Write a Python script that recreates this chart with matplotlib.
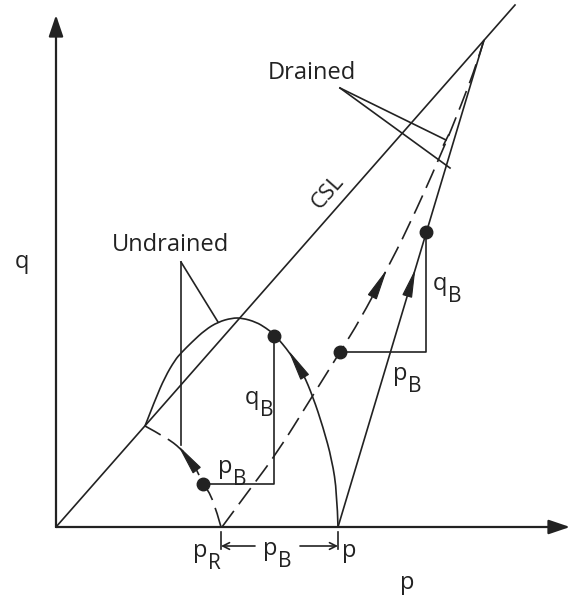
import matplotlib.pyplot as plt
import numpy as np
from matplotlib.path import Path
from matplotlib.patches import PathPatch, Polygon

plt.rcParams['font.family'] = ['Open Sans', 'DejaVu Sans']

INK = '#222222'
FS = 17

# p-q plane, drawing units
p_max = 514
q_max = 512
p_start = 282          # p
p_R = 165              # p_R
csl_end = (459, 522)   # CSL passes through origin

# undrained path from the CSL down to p (solid)
undr_p = [89, 99, 109, 119, 125, 136, 149, 162, 176, 186, 200, 210, 219, 234, 247, 257, 267, 276, 281, 282]
undr_q = [101, 127, 150, 167, 174, 185, 197, 205, 209, 209, 205, 199, 192, 174, 154, 130, 100, 67, 34, 0]

# undrained path from p_R up to the CSL (dashed)
undr_r_p = [165, 157, 147, 137, 124, 111, 89]
undr_r_q = [0, 29, 43, 65, 79, 89, 101]

# drained path from p_R to the CSL (dashed)
dr_r_p = [166, 194, 221, 254, 284, 304, 329, 352, 384, 406, 421, 428]
dr_r_q = [0, 38, 74, 127, 175, 207, 254, 299, 370, 424, 464, 487]

# drained path from p to the CSL (straight)
dr_p = [282, 428]
dr_q = [0, 487]

# marked states
undr_dots_p = [147, 218]
undr_dots_q = [43, 191]
dr_dots_p = [284, 370]
dr_dots_q = [175, 295]


def smooth_path(ps, qs):
    pts = np.column_stack([ps, qs]).astype(float)
    n = len(pts)
    if n == 2:
        return Path(pts, [Path.MOVETO, Path.LINETO])
    verts = [pts[0]]
    codes = [Path.MOVETO]
    for i in range(1, n - 1):
        end = pts[i + 1] if i == n - 2 else (pts[i] + pts[i + 1]) / 2
        verts += [pts[i], end]
        codes += [Path.CURVE3, Path.CURVE3]
    return Path(verts, codes)


def draw_curve(ax, ps, qs, dashed=False):
    ls = (0, (12, 5)) if dashed else '-'
    ax.add_patch(PathPatch(smooth_path(ps, qs), fill=False, ec=INK,
                           lw=1.2, ls=ls, capstyle='butt'))


def arrow_on(ax, ps, qs, q_tip, length=28, half_w=4.5):
    # walk along the path to q_tip, then step back by length for the base
    pts = np.column_stack([ps, qs]).astype(float)
    for i in range(len(pts) - 1):
        a, b = pts[i], pts[i + 1]
        if (a[1] - q_tip) * (b[1] - q_tip) <= 0 and a[1] != b[1]:
            t = (q_tip - a[1]) / (b[1] - a[1])
            tip = a + t * (b - a)
            break
    remain = length
    cur = tip
    for pt in pts[:i + 1][::-1]:
        d = np.hypot(*(pt - cur))
        if d >= remain:
            cur = cur + (pt - cur) * remain / d
            break
        remain -= d
        cur = pt
    u = (tip - cur) / np.hypot(*(tip - cur))
    nrm = np.array([-u[1], u[0]])
    ax.add_patch(Polygon([tip, cur + nrm * half_w, cur - nrm * half_w],
                         closed=True, fc=INK, ec=INK, lw=0.8))


def sub_label(ax, x, y, main, sub):
    # main letter with baseline at (x, y), subscript set lower at near full size
    ax.text(x, y, main, ha='left', va='baseline', fontsize=FS, color=INK)
    ax.annotate(sub, xy=(x, y), xytext=(10.5, -8.5), textcoords='offset points',
                ha='left', va='baseline', fontsize=FS - 2, color=INK)


fig = plt.figure(figsize=(5.72, 5.98), dpi=100)
ax = fig.add_axes([0, 0, 1, 1])
ax.set_xlim(-56, 516)
ax.set_ylim(-71, 527)
ax.set_aspect('equal')
ax.axis('off')

# axes with arrowheads
for xy in [(0, q_max), (p_max, 0)]:
    ax.annotate('', xy=xy, xytext=(0, 0),
                arrowprops=dict(arrowstyle='-|>,head_length=0.65,head_width=0.22',
                                mutation_scale=20, lw=1.6, color=INK,
                                shrinkA=0, shrinkB=0))

# critical state line
ax.plot([0, csl_end[0]], [0, csl_end[1]], color=INK, lw=1.2)
ax.text(272, 335, 'CSL', rotation=48.7, ha='center', va='center', fontsize=FS - 1, color=INK)

# stress paths
draw_curve(ax, undr_p, undr_q)
draw_curve(ax, undr_r_p, undr_r_q, dashed=True)
draw_curve(ax, dr_r_p, dr_r_q, dashed=True)
draw_curve(ax, dr_p, dr_q)

arrow_on(ax, undr_p[::-1], undr_q[::-1], 174)
arrow_on(ax, undr_r_p, undr_r_q, 79)
arrow_on(ax, dr_r_p, dr_r_q, 255)
arrow_on(ax, dr_p, dr_q, 255, length=25)

ax.plot(undr_dots_p, undr_dots_q, 'o', ms=9, color=INK)
ax.plot(dr_dots_p, dr_dots_q, 'o', ms=9, color=INK)

# increments p_B, q_B
ax.plot([undr_dots_p[0], undr_dots_p[1], undr_dots_p[1]],
        [undr_dots_q[0], undr_dots_q[0], undr_dots_q[1]], color=INK, lw=1.2)
ax.plot([dr_dots_p[0], dr_dots_p[1], dr_dots_p[1]],
        [dr_dots_q[0], dr_dots_q[0], dr_dots_q[1]], color=INK, lw=1.2)

sub_label(ax, 189, 123, 'q', 'B')
sub_label(ax, 162, 54, 'p', 'B')
sub_label(ax, 377, 237, 'q', 'B')
sub_label(ax, 337, 147, 'p', 'B')

# leaders
ax.text(114, 282, 'Undrained', ha='center', va='center', fontsize=FS, color=INK)
ax.plot([125, 125], [265, 82], color=INK, lw=1.2)
ax.plot([125, 162], [265, 205], color=INK, lw=1.2)

ax.text(256, 454, 'Drained', ha='center', va='center', fontsize=FS, color=INK)
ax.plot([284, 390], [439, 387], color=INK, lw=1.2)
ax.plot([284, 394], [439, 359], color=INK, lw=1.2)
ax.plot([387.5, 392.5], [382, 392], color=INK, lw=1.2)

# p_B between p_R and p
dim_q = -19
ax.plot([p_R, p_R], [-5, -22], color=INK, lw=1.2)
ax.plot([p_start, p_start], [-5, -22], color=INK, lw=1.2)
for end, start in [(p_R, 199), (p_start, 244)]:
    ax.annotate('', xy=(end, dim_q), xytext=(start, dim_q),
                arrowprops=dict(arrowstyle='->,head_length=0.4,head_width=0.2',
                                mutation_scale=12, lw=1.2, color=INK,
                                shrinkA=0, shrinkB=0))
sub_label(ax, 137, -30, 'p', 'R')
sub_label(ax, 207, -28, 'p', 'B')
ax.text(286, -30, 'p', ha='left', va='baseline', fontsize=FS, color=INK)

ax.text(351, -56, 'p', ha='center', va='center', fontsize=FS, color=INK)
ax.text(-34, 265, 'q', ha='center', va='center', fontsize=FS, color=INK)

fig.savefig('out.png', dpi=100)
